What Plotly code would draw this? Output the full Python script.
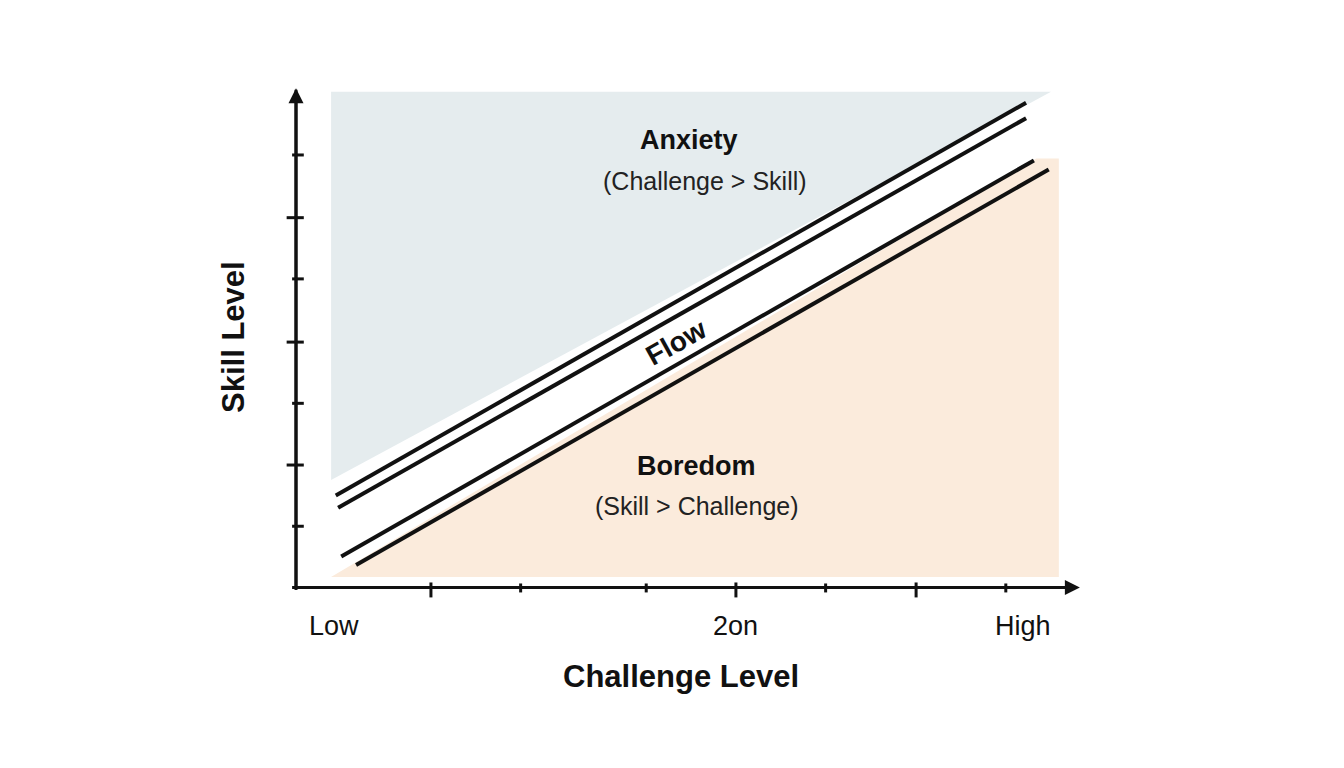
import plotly.graph_objects as go

# data (chart units: challenge 0..10, skill 0..10)
anx_x = [0.45, 9.68, 0.45]
anx_y = [9.96, 9.96, 2.16]
bor_x = [0.45, 9.78, 9.78, 9.49]
bor_y = [0.21, 0.21, 8.62, 8.62]
lines = [
    ([0.51, 9.36], [1.85, 9.74]),
    ([0.54, 9.36], [1.60, 9.43]),
    ([0.58, 9.46], [0.62, 8.58]),
    ([0.77, 9.65], [0.45, 8.40]),
]
xticks = [1.73, 2.88, 4.49, 5.64, 6.79, 7.95, 9.10]
xticks_long = [1.73, 5.64, 7.95]
yticks = [8.69, 7.43, 6.20, 4.93, 3.70, 2.46, 1.23]
yticks_long = [7.43, 4.93, 2.46]
xlabels = [(0.49, "Low"), (5.64, "2on"), (9.32, "High")]

F = "Liberation Sans, Arial, sans-serif"
fig = go.Figure()
fig.add_trace(go.Scatter(x=anx_x, y=anx_y, fill="toself", fillcolor="#e5ecee",
                         line=dict(width=0), mode="lines", hoverinfo="skip"))
fig.add_trace(go.Scatter(x=bor_x, y=bor_y, fill="toself", fillcolor="#fbebdc",
                         line=dict(width=0), mode="lines", hoverinfo="skip"))
for lx, ly in lines:
    fig.add_trace(go.Scatter(x=lx, y=ly, mode="lines", line=dict(color="#111", width=4),
                             hoverinfo="skip"))

shapes = []
for t in xticks:
    h = 0.2 if t in xticks_long else 0.1
    shapes.append(dict(type="line", x0=t, x1=t, y0=-h, y1=0.1 if t in xticks_long else 0.08,
                       line=dict(color="#111", width=3)))
for t in yticks:
    w = 0.12 if t in yticks_long else 0.05
    shapes.append(dict(type="line", x0=-w, x1=0.1, y0=t, y1=t, line=dict(color="#111", width=3)))

ann = [
    dict(x=10.05, y=0, ax=-0.05, ay=0, axref="x", ayref="y", showarrow=True, arrowhead=2,
         arrowsize=1, arrowwidth=3, arrowcolor="#111", text=""),
    dict(x=0, y=10.03, ax=0, ay=-0.05, axref="x", ayref="y", showarrow=True, arrowhead=2,
         arrowsize=1, arrowwidth=3, arrowcolor="#111", text=""),
    dict(x=5.04, y=8.99, text="<b>Anxiety</b>", font=dict(size=27, color="#111", family=F)),
    dict(x=5.24, y=8.17, text="(Challenge > Skill)", font=dict(size=25, color="#222", family=F)),
    dict(x=5.14, y=2.44, text="<b>Boredom</b>", font=dict(size=27, color="#111", family=F)),
    dict(x=5.14, y=1.64, text="(Skill > Challenge)", font=dict(size=25, color="#222", family=F)),
    dict(x=4.87, y=4.93, text="<b>Flow</b>", textangle=-29, font=dict(size=28, color="#111", family=F)),
    dict(x=4.94, y=-1.79, text="<b>Challenge Level</b>", font=dict(size=31, color="#111", family=F)),
    dict(x=-0.81, y=5.03, text="<b>Skill Level</b>", textangle=-90, font=dict(size=31, color="#111", family=F)),
]
for x, s in xlabels:
    ann.append(dict(x=x, y=-0.78, text=s, font=dict(size=27, color="#111", family=F)))
for a in ann:
    a.setdefault("showarrow", False)
    a["xref"] = "x"; a["yref"] = "y"

fig.update_layout(
    width=1344, height=768, showlegend=False, plot_bgcolor="white", paper_bgcolor="white",
    margin=dict(l=210, r=198, t=32, b=89),
    xaxis=dict(range=[-1, 11], visible=False, fixedrange=True),
    yaxis=dict(range=[-2, 11], visible=False, fixedrange=True),
    shapes=shapes + [
        dict(type="line", x0=-0.05, x1=10.0, y0=0, y1=0, line=dict(color="#111", width=3)),
        dict(type="line", x0=0, x1=0, y0=-0.05, y1=10.0, line=dict(color="#111", width=3)),
    ],
    annotations=ann,
)
fig.write_html("out.html")
